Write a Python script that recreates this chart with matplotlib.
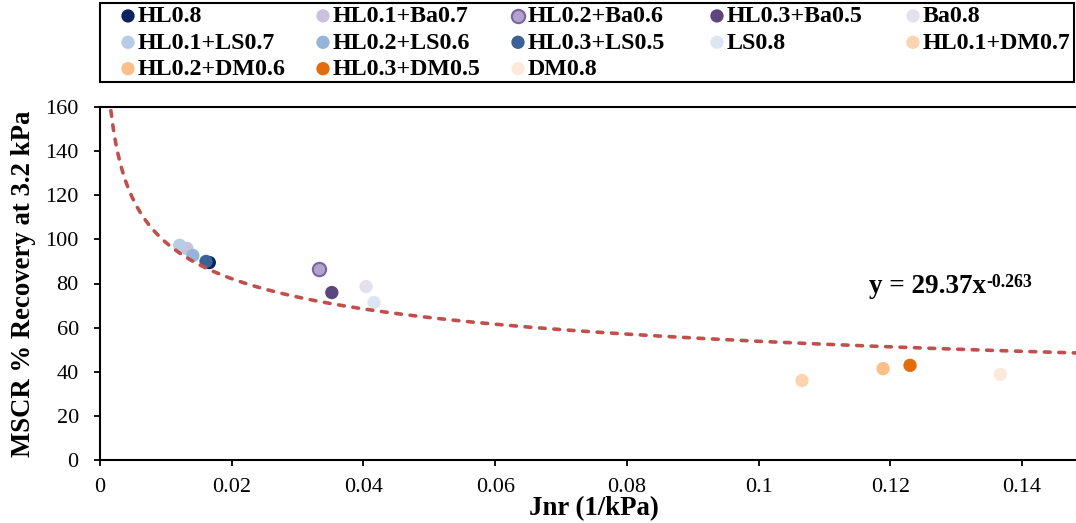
import numpy as np
import matplotlib
matplotlib.use('Agg')
import matplotlib.pyplot as plt

plt.rcParams['font.family'] = ['Liberation Serif', 'DejaVu Serif']

# measured Jnr (1/kPa) and MSCR recovery (%) per binder blend
labels = ['HL0.8', 'HL0.1+Ba0.7', 'HL0.2+Ba0.6', 'HL0.3+Ba0.5', 'Ba0.8',
          'HL0.1+LS0.7', 'HL0.2+LS0.6', 'HL0.3+LS0.5', 'LS0.8', 'HL0.1+DM0.7',
          'HL0.2+DM0.6', 'HL0.3+DM0.5', 'DM0.8']
jnr = [0.0166, 0.0132, 0.0333, 0.0352, 0.0404,
       0.0121, 0.0141, 0.0161, 0.0416, 0.1066,
       0.1189, 0.1230, 0.1367]
recovery = [89.5, 95.9, 86.4, 75.9, 78.6,
            97.3, 92.7, 90.0, 71.4, 36.0,
            41.4, 42.9, 38.8]
colors = ['#0b2361', '#cbc0de', '#b0a3cd', '#5c4680', '#e5e0ed',
          '#b7cde6', '#94b4da', '#3b6297', '#dce6f2', '#fcd5b0',
          '#fbbf8a', '#e46c0a', '#fde9d9']

# power trendline reported on the chart
coef_a = 29.37
coef_b = -0.263
trend_x = np.linspace(0.00165, 0.1482, 400)

fig = plt.figure(figsize=(10.76, 5.23), dpi=100)
ax = fig.add_axes([100 / 1076, 1 - 460 / 523, 976 / 1076, 353 / 523])

handles = []
for lab, x, y, c in zip(labels, jnr, recovery, colors):
    if lab == 'HL0.2+Ba0.6':
        h = ax.scatter([x], [y], s=92, color=c, edgecolors='#7c63a6',
                       linewidths=1.5, label=lab, zorder=3)
    else:
        h = ax.scatter([x], [y], s=92, color=c, edgecolors='none',
                       label=lab, zorder=3)
    handles.append(h)

ax.plot(trend_x, coef_a * trend_x ** coef_b, color='#c0504d', lw=2.6,
        ls=(0, (1.6, 2.4)), dash_capstyle='round', zorder=4)

t = ax.text(0.1168, 75.9, 'y = 29.37x', fontsize=19.5, fontweight='bold',
            ha='left', va='baseline')
ax.annotate('-0.263', xy=(1, 0), xycoords=t, xytext=(0, 11.7),
            textcoords='offset pixels', fontsize=12.8, fontweight='bold',
            ha='left', va='baseline')

ax.set_xlim(0, 0.1482)
ax.set_ylim(0, 160)
ax.set_xticks(np.arange(0, 0.141, 0.02))
ax.set_xticklabels(['0', '0.02', '0.04', '0.06', '0.08', '0.1', '0.12', '0.14'])
ax.set_yticks(np.arange(0, 161, 20))
ax.tick_params(direction='out', length=4.3, width=1.3, labelsize=16)
ax.tick_params(axis='x', pad=9)
ax.tick_params(axis='y', pad=11)
ax.spines['right'].set_visible(False)
for side in ['left', 'bottom', 'top']:
    ax.spines[side].set_linewidth(1.5)

ax.set_xlabel('Jnr (1/kPa)', fontsize=19.3, fontweight='bold')
ax.set_ylabel('MSCR % Recovery at 3.2 kPa', fontsize=19.3, fontweight='bold')
ax.xaxis.set_label_coords(0.506, -0.1025)
ax.yaxis.set_label_coords(-0.066, 0.5)

# legend reads row by row, matplotlib fills column by column
order = [0, 5, 10, 1, 6, 11, 2, 7, 12, 3, 8, 4, 9]
leg = fig.legend([handles[i] for i in order], [labels[i] for i in order],
                 loc='upper left', ncol=5,
                 bbox_to_anchor=(100 / 1076, 1 - 3 / 523),
                 borderaxespad=0, prop={'weight': 'bold', 'size': 17.3},
                 scatterpoints=1, handlelength=2.13, handletextpad=-0.65,
                 labelspacing=0.19, borderpad=0.1, columnspacing=0,
                 fancybox=False, edgecolor='black', framealpha=1)
leg.get_frame().set_linewidth(1.5)

# fixed-width legend columns, like the spreadsheet legend
col_widths = [195, 195, 199, 196, 184]
for col, w in zip(leg._legend_handle_box.get_children(), col_widths):
    col.align = 'left'
    col.set_width(w)

plt.savefig('out.png', dpi=100)
plt.close()
